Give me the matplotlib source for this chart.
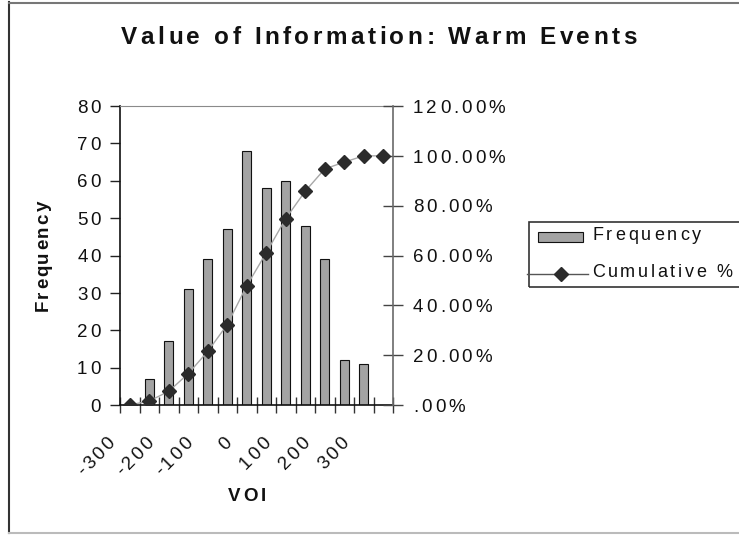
import math

import matplotlib.pyplot as plt
from matplotlib.font_manager import FontProperties
from matplotlib.lines import Line2D
from matplotlib.patches import Rectangle

plt.rcParams['font.family'] = ['Liberation Sans', 'DejaVu Sans']

# histogram bins (VOI) and counts
bins = [-300, -250, -200, -150, -100, -50, 0, 50, 100, 150, 200, 250, 300, 350]
frequency = [0, 7, 17, 31, 39, 47, 68, 58, 60, 48, 39, 12, 11, 0]
cumulative_pct = [0.0, 1.60, 5.49, 12.59, 21.51, 32.27, 47.83, 61.10, 74.83,
                  85.81, 94.74, 97.48, 100.0, 100.0]
left_ticks = [0, 10, 20, 30, 40, 50, 60, 70, 80]
right_ticks = [0, 20, 40, 60, 80, 100, 120]

W, H = 739, 535
BAR_GREY = '#a3a3a3'
DARK = '#2b2b2b'
LINE_GREY = '#a8a8a8'

fig = plt.figure(figsize=(W / 100, H / 100), dpi=100)
ax = fig.add_axes([120 / W, 1 - 405 / H, 273 / W, 299 / H])
renderer = fig.canvas.get_renderer()


def fx(px):
    return px / W


def fy(py):
    return 1 - py / H


def advance(ch, prop):
    w = lambda t: renderer.get_text_width_height_descent(t, prop, ismath=False)[0]
    return w('H' + ch + 'H') - w('HH')


def spaced(s, xy, xycoords, size, weight='normal', track=3.0, ha='left',
           angle=0, offset=(0, 0)):
    """Draw s one glyph at a time with extra letter spacing (pixels)."""
    prop = FontProperties(family='Liberation Sans', size=size, weight=weight)
    adv = [advance(c, prop) for c in s]
    total = sum(adv) + track * (len(s) - 1)
    pos = {'left': 0, 'center': -total / 2, 'right': -total}[ha]
    c, sn = math.cos(math.radians(angle)), math.sin(math.radians(angle))
    for ch, a in zip(s, adv):
        ax.annotate(ch, xy, xycoords=xycoords,
                    xytext=(offset[0] + pos * c, offset[1] + pos * sn),
                    textcoords='offset pixels', rotation=angle,
                    rotation_mode='anchor', ha='left', va='baseline',
                    fontproperties=prop, color='#111111', annotation_clip=False)
        pos += a + track


TICK_PT = 13.5
CAP = 0.716 * TICK_PT * 100 / 72

# frequency bars
x = list(range(len(bins)))
ax.bar(x, frequency, width=0.45, color=BAR_GREY, edgecolor='#111111',
       linewidth=0.8, zorder=2)
ax.set_xlim(-0.5, len(bins) - 0.5)
ax.set_ylim(0, 80)
ax.set_yticks(left_ticks)
ax.set_yticklabels([])
ax.tick_params(axis='y', direction='out', length=7, width=1, color='#222222')
ax.set_xticks([i - 0.5 for i in range(len(bins) + 1)])
ax.set_xticklabels([])
ax.tick_params(axis='x', direction='inout', length=12, width=1, color='#333333')

for side in ['left', 'bottom']:
    ax.spines[side].set_color('#111111')
    ax.spines[side].set_linewidth(1.2)
ax.spines['top'].set_color('#8a8a8a')
ax.spines['right'].set_visible(False)

for v in left_ticks:
    spaced(str(v), (0, v), ax.get_yaxis_transform(), TICK_PT, track=3,
           ha='right', offset=(-19, -CAP / 2))

# every other bin gets a label
for i in x[::2]:
    spaced(str(bins[i]), (i, 0), ax.get_xaxis_transform(), TICK_PT, track=2.5,
           ha='right', angle=45, offset=(-14, -39))

# cumulative percentage on the secondary axis
ax2 = ax.twinx()
ax2.plot(x, cumulative_pct, color=LINE_GREY, linewidth=1, marker='D',
         markersize=7.4, markerfacecolor=DARK, markeredgecolor=DARK, zorder=3)
ax2.set_ylim(0, 120)
ax2.set_yticks(right_ticks)
ax2.set_yticklabels([])
ax2.tick_params(axis='y', direction='inout', length=14, width=1, color='#444444')
for side in ['left', 'top', 'bottom']:
    ax2.spines[side].set_visible(False)
ax2.spines['right'].set_color('#6a6a6a')
ax2.spines['right'].set_linewidth(1.2)

for v in right_ticks:
    txt = '.00%' if v == 0 else '%.2f%%' % v
    spaced(txt, (1, v), ax2.get_yaxis_transform(), TICK_PT, track=3,
           ha='left', offset=(20, -CAP / 2))

# titles
spaced('Value of Information: Warm Events', (379, H - 44), 'figure pixels',
       17.5, weight='bold', track=3.5, ha='center')
spaced('Frequency', (48, H - 256), 'figure pixels', 13.5, weight='bold',
       track=2, ha='center', angle=90)
spaced('VOI', (247, H - 501), 'figure pixels', 13.5, weight='bold',
       track=3, ha='center')

# legend drawn by hand
fig.patches.append(Rectangle((fx(529), fy(287)), fx(230), 65 / H,
                             transform=fig.transFigure, fill=False,
                             edgecolor='#333333', linewidth=1.2))
fig.patches.append(Rectangle((fx(538), fy(242)), fx(45), 10 / H,
                             transform=fig.transFigure, facecolor=BAR_GREY,
                             edgecolor='#111111', linewidth=0.8))
fig.lines.append(Line2D([fx(527), fx(588)], [fy(274), fy(274)],
                        transform=fig.transFigure, color='#555555', linewidth=1))
fig.lines.append(Line2D([fx(561)], [fy(274)], transform=fig.transFigure,
                        marker='D', markersize=7.4, color=DARK, linestyle='none'))
spaced('Frequency', (592, H - 240), 'figure pixels', 13, track=3)
spaced('Cumulative %', (592, H - 277), 'figure pixels', 13, track=2.7)

# outer chart border
fig.lines.append(Line2D([fx(9), fx(9)], [fy(2), fy(533)],
                        transform=fig.transFigure, color='#333333', linewidth=1.5))
fig.lines.append(Line2D([fx(9), fx(739)], [fy(2.5), fy(2.5)],
                        transform=fig.transFigure, color='#777777', linewidth=1.5))
fig.lines.append(Line2D([fx(9), fx(739)], [fy(533), fy(533)],
                        transform=fig.transFigure, color='#bbbbbb', linewidth=1.5))

fig.savefig('out.png', dpi=100)
